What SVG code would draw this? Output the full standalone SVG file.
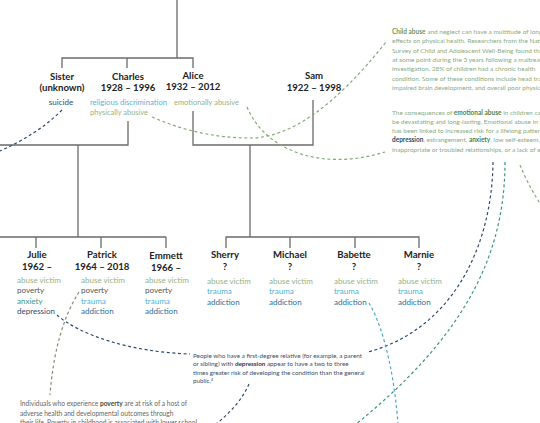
<svg xmlns="http://www.w3.org/2000/svg" width="540" height="423" viewBox="0 0 540 423">
<style>
text{font-family:Lato,"Open Sans","Liberation Sans",sans-serif}
.tree{fill:none;stroke:#6b6b6b;stroke-width:1.3}
.nm{font-size:9.6px;font-weight:bold;fill:#222;text-anchor:middle}
.at{font-size:8px}
.g{fill:#93b188}
.pv{fill:#555}
.ax{fill:#3a9880}
.dp{fill:#2e4a6c}
.tr{fill:#4eb0d3}
.ad{fill:#2a6e9e}
.rd{fill:#58b2d8}
.par{font-size:6.5px;fill:#8aab7e}
.mid{font-size:6.3px;fill:#3d4e6a}
.bot{font-size:6.6px;fill:#666}
.c{fill:none;stroke-width:1.2;stroke-dasharray:3 2.6}
.navy{stroke:#2f4a70}
.grn{stroke:#84aa78}
.teal{stroke:#3d9480}
.lb{stroke:#4aa6cc}
.gg{stroke:#7f9070}
</style>

<g id="tree-lines">
<path class="tree" d="M177,0V58M62,68V58H193V68M127,58V68"/>
<path class="tree" d="M128,121V145H0M78,145V237M0,237H166M36,237V248M101,237V248M166,237V248"/>
<path class="tree" d="M193,111V145H313V100M250,145V237M226,248V237H419V248M290,237V248M355,237V248"/>
</g>

<g id="connectors">
<path class="c navy" d="M62,110 Q38,134 0,151"/>
<path class="c grn" d="M152,117 Q200,138 250,138 Q310,138 386,42"/>
<path class="c grn" d="M247,107 C265,150 320,172 385,152"/>
<path class="c navy" d="M493,162 C492,250 450,330 368,352"/>
<path class="c teal" d="M505,162 C505,260 460,340 355,425"/>
<path class="c grn" d="M520,165 Q528,185 541,205"/>
<path class="c navy" d="M57,315 C80,335 130,352 190,354"/>
<path class="c gg" d="M79,292 Q55,330 50,395"/>
<path class="c lb" d="M369,303 C385,330 395,380 398,425"/>
<path class="c navy" d="M249,384 Q240,405 215,425"/>
</g>

<g id="sister">
<text class="nm" x="62" y="80">Sister</text>
<text class="nm" x="62" y="91">(unknown)</text>
<text class="at dp" x="61" y="105" text-anchor="middle">suicide</text>
</g>
<g id="charles">
<text class="nm" x="128" y="80">Charles</text>
<text class="nm" x="128" y="91">1928 – 1996</text>
<text class="at rd" x="90" y="105" textLength="77" lengthAdjust="spacingAndGlyphs">religious discrimination</text>
<text class="at g" x="90" y="115" textLength="58" lengthAdjust="spacingAndGlyphs">physically abusive</text>
</g>
<g id="alice">
<text class="nm" x="193" y="79">Alice</text>
<text class="nm" x="193" y="90">1932 – 2012</text>
<text class="at g" x="174" y="105" textLength="65" lengthAdjust="spacingAndGlyphs">emotionally abusive</text>
</g>
<g id="sam">
<text class="nm" x="314" y="79">Sam</text>
<text class="nm" x="314" y="90.5">1922 – 1998</text>
</g>

<g id="julie">
<text class="nm" x="37" y="258">Julie</text>
<text class="nm" x="37" y="270">1962 –</text>
<text class="at g" x="17" y="282.5">abuse victim</text>
<text class="at pv" x="17" y="293">poverty</text>
<text class="at ax" x="17" y="303.7">anxiety</text>
<text class="at dp" x="17" y="314.3">depression</text>
</g>
<g id="patrick">
<text class="nm" x="102" y="258">Patrick</text>
<text class="nm" x="102" y="270">1964 – 2018</text>
<text class="at g" x="81" y="282.5">abuse victim</text>
<text class="at pv" x="81" y="293">poverty</text>
<text class="at tr" x="81" y="303.7">trauma</text>
<text class="at ad" x="81" y="314.3">addiction</text>
</g>
<g id="emmett">
<text class="nm" x="166" y="258.5">Emmett</text>
<text class="nm" x="166" y="270.5">1966 –</text>
<text class="at g" x="145" y="282.5">abuse victim</text>
<text class="at pv" x="145" y="293">poverty</text>
<text class="at tr" x="145" y="303.7">trauma</text>
<text class="at ad" x="145" y="314.3">addiction</text>
</g>
<g id="sherry">
<text class="nm" x="225" y="258">Sherry</text>
<text class="nm" x="225" y="270">?</text>
<text class="at g" x="207" y="283.5">abuse victim</text>
<text class="at tr" x="207" y="294">trauma</text>
<text class="at ad" x="207" y="304.5">addiction</text>
</g>
<g id="michael">
<text class="nm" x="290" y="258">Michael</text>
<text class="nm" x="290" y="270">?</text>
<text class="at g" x="269" y="283.5">abuse victim</text>
<text class="at tr" x="269" y="294">trauma</text>
<text class="at ad" x="269" y="304.5">addiction</text>
</g>
<g id="babette">
<text class="nm" x="354" y="258">Babette</text>
<text class="nm" x="354" y="270">?</text>
<text class="at g" x="334" y="283.5">abuse victim</text>
<text class="at tr" x="334" y="294">trauma</text>
<text class="at ad" x="334" y="304.5">addiction</text>
</g>
<g id="marnie">
<text class="nm" x="419" y="258">Marnie</text>
<text class="nm" x="419" y="270">?</text>
<text class="at g" x="398" y="283.5">abuse victim</text>
<text class="at tr" x="398" y="294">trauma</text>
<text class="at ad" x="398" y="304.5">addiction</text>
</g>

<g id="note-abuse">
<text class="par" x="392" y="34"><tspan font-weight="bold" fill="#6e9960">Child abuse</tspan> and neglect can have a multitude of long-term</text>
<text class="par" x="392" y="43.3">effects on physical health. Researchers from the National</text>
<text class="par" x="392" y="52.6">Survey of Child and Adolescent Well-Being found that</text>
<text class="par" x="392" y="61.9">at some point during the 3 years following a maltreatment</text>
<text class="par" x="392" y="71.2">investigation, 28% of children had a chronic health</text>
<text class="par" x="392" y="80.5">condition. Some of these conditions include head trauma,</text>
<text class="par" x="392" y="89.8">impaired brain development, and overall poor physical health.</text>
<text class="par" x="392" y="114.5">The consequences of <tspan font-weight="bold" fill="#557f4a">emotional abuse</tspan> in children can</text>
<text class="par" x="392" y="123.8">be devastating and long-lasting. Emotional abuse in childhood</text>
<text class="par" x="392" y="133.1">has been linked to increased risk for a lifelong pattern of</text>
<text class="par" x="392" y="142.4"><tspan font-weight="bold" fill="#2e4a6c">depression</tspan>, estrangement, <tspan font-weight="bold" fill="#3f8055">anxiety</tspan>, low self-esteem,</text>
<text class="par" x="392" y="151.7">inappropriate or troubled relationships, or a lack of empathy.</text>
</g>

<g id="note-depression">
<text class="mid" x="193" y="357.5">People who have a first-degree relative (for example, a parent</text>
<text class="mid" x="193" y="366">or sibling) with <tspan font-weight="bold" fill="#1f3a5f">depression</tspan> appear to have a two to three</text>
<text class="mid" x="193" y="374.5">times greater risk of developing the condition than the general</text>
<text class="mid" x="193" y="383">public.<tspan font-size="4px" dy="-2.5">4</tspan></text>
</g>

<g id="note-poverty">
<text class="bot" x="20" y="406">Individuals who experience <tspan font-weight="bold" fill="#3f4b35">poverty</tspan> are at risk of a host of</text>
<text class="bot" x="20" y="415.5">adverse health and developmental outcomes through</text>
<text class="bot" x="20" y="425">their life. Poverty in childhood is associated with lower school</text>
</g>
</svg>
